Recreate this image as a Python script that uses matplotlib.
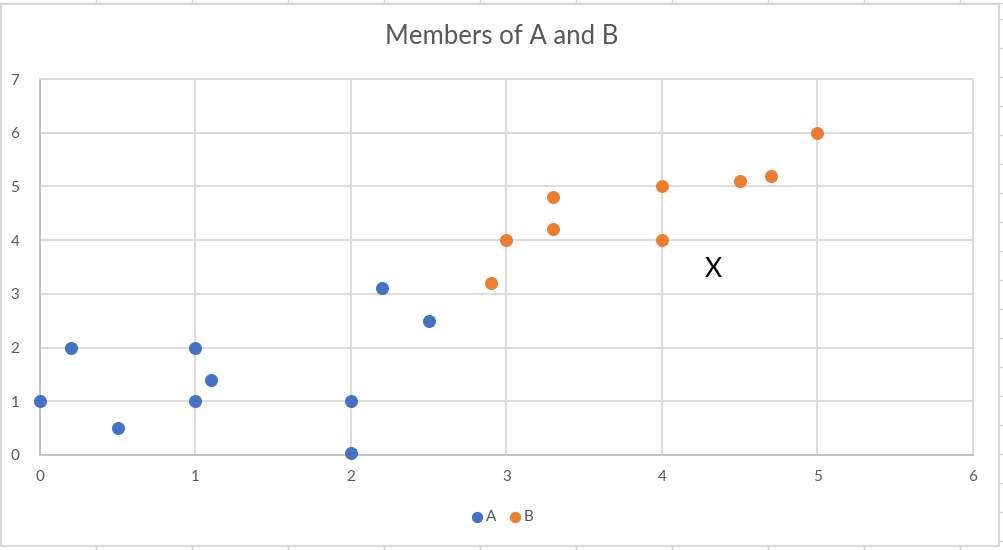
import matplotlib.pyplot as plt
from matplotlib.lines import Line2D
from matplotlib.patches import Rectangle

plt.rcParams['font.family'] = ['Lato', 'DejaVu Sans']

# series A
a_x = [0, 0.2, 0.5, 1, 1, 1.1, 2, 2, 2.2, 2.5]
a_y = [1, 2, 0.5, 1, 2, 1.4, 1, 0.04, 3.1, 2.5]
# series B
b_x = [2.9, 3, 3.3, 3.3, 4, 4, 4.5, 4.7, 5]
b_y = [3.2, 4, 4.8, 4.2, 5, 4, 5.1, 5.2, 6]

x_ticks = [0, 1, 2, 3, 4, 5, 6]
y_ticks = [0, 1, 2, 3, 4, 5, 6, 7]

W, H = 1004, 550
fig = plt.figure(figsize=(W / 100, H / 100), dpi=100)

# spreadsheet cell lines peeking around the chart
for cx in range(96, 1000, 96):
    fig.add_artist(Line2D([cx / W, cx / W], [1, 1 - 4 / H], color='#d4d4d4', lw=1))
    fig.add_artist(Line2D([cx / W, cx / W], [0, 4 / H], color='#d4d4d4', lw=1))
for cy in range(19, 550, 29):
    fig.add_artist(Line2D([1, 1 - 4 / W], [1 - cy / H, 1 - cy / H], color='#d4d4d4', lw=1))
fig.add_artist(Line2D([0, 1], [1 - 3 / H, 1 - 3 / H], color='#d4d4d4', lw=1))
fig.add_artist(Rectangle((1.5 / W, 4 / H), 998 / W, 542 / H, fill=False,
                         edgecolor='#d9d9d9', lw=1.5))

ax = fig.add_axes([40 / W, 95 / H, 933 / W, 376 / H])
ax.scatter(a_x, a_y, s=70, color='#4472c4', zorder=3, label='A', clip_on=False)
ax.scatter(b_x, b_y, s=70, color='#ed7d31', zorder=3, label='B', clip_on=False)

ax.set_xlim(0, 6)
ax.set_ylim(0, 7)
ax.set_xticks(x_ticks)
ax.set_yticks(y_ticks)
ax.grid(True, color='#d9d9d9', lw=1.3)
ax.set_axisbelow(True)
for s in ['top', 'right']:
    ax.spines[s].set_color('#d9d9d9')
    ax.spines[s].set_linewidth(1.3)
for s in ['left', 'bottom']:
    ax.spines[s].set_color('#bfbfbf')
    ax.spines[s].set_linewidth(1.3)
ax.tick_params(length=0, labelsize=11, labelcolor='#595959', pad=11)
ax.tick_params(axis='y', pad=15)

ax.text(4.33, 3.45, 'X', fontsize=19, ha='center', va='center', color='black')

fig.text(0.5, 1 - 37 / H, 'Members of A and B', ha='center', va='center',
         fontsize=18.5, color='#595959')

fig.legend(loc='center', bbox_to_anchor=(0.5, 1 - 517 / H), ncol=2, frameon=False,
           handlelength=0.8, handletextpad=0.2, columnspacing=0.8, fontsize=11,
           labelcolor='#595959', markerscale=0.85)

fig.savefig('out.png', dpi=100)
